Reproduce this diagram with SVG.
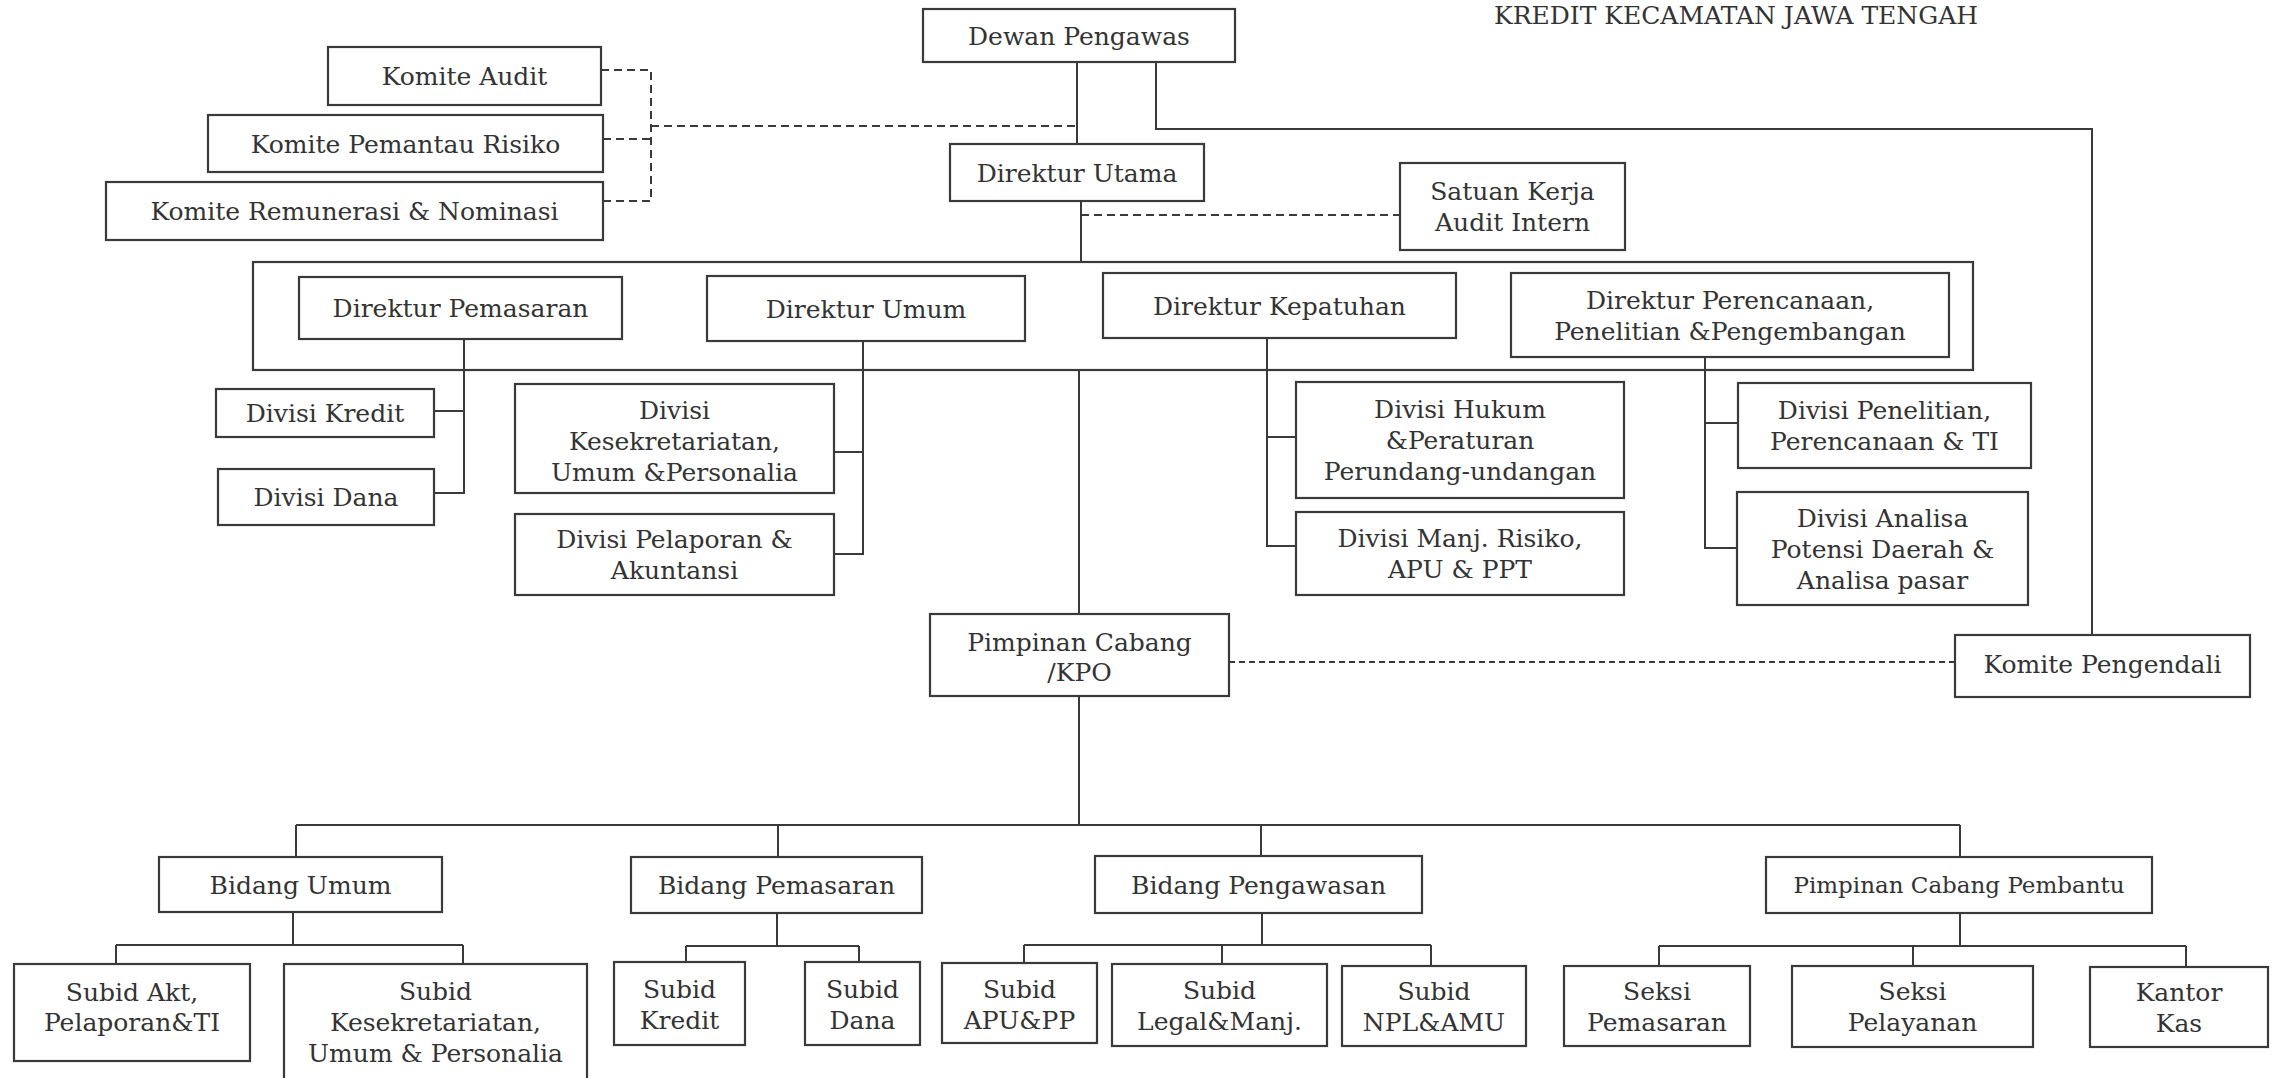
<svg xmlns="http://www.w3.org/2000/svg" width="2276" height="1078" viewBox="0 0 2276 1078">
<style>
  .bx { fill: #ffffff; stroke: #3a3a3a; stroke-width: 2.2; }
  .frame { fill: none; stroke: #3a3a3a; stroke-width: 2.2; }
  .ln { fill: none; stroke: #3a3a3a; stroke-width: 2; }
  .dash { fill: none; stroke: #3a3a3a; stroke-width: 2; stroke-dasharray: 8 5; }
  .dot { fill: none; stroke: #3a3a3a; stroke-width: 2; stroke-dasharray: 6 4; }
  text { font-family: "DejaVu Serif", "Liberation Serif", serif; font-size: 25px; fill: #333333; text-anchor: middle; }
  .sm { font-size: 23px; }
  .title { text-anchor: start; }
</style>
<rect width="2276" height="1078" fill="#ffffff"/>

<text class="title" x="1494" y="24">KREDIT KECAMATAN JAWA TENGAH</text>

<g id="connectors">
  <!-- solid -->
  <path class="ln" d="M1077 62 V144"/>
  <path class="ln" d="M1156 62 V129 H2092 V635"/>
  <path class="ln" d="M1081 201 V262"/>
  <path class="ln" d="M1079 370 V614"/>
  <path class="ln" d="M1079 696 V825"/>
  <path class="ln" d="M296 825 H1960"/>
  <path class="ln" d="M296 825 V857 M778 825 V857 M1261 825 V856 M1960 825 V857"/>
  <path class="ln" d="M464 339 V493 H434 M434 411 H464"/>
  <path class="ln" d="M863 341 V554 H834 M834 452 H863"/>
  <path class="ln" d="M1267 338 V546 H1296 M1267 437 H1296"/>
  <path class="ln" d="M1705 357 V548 H1737 M1705 423 H1738"/>
  <path class="ln" d="M293 912 V945 M116 945 H463 M116 945 V964 M463 945 V964"/>
  <path class="ln" d="M777 913 V946 M686 946 H859 M686 946 V962 M859 946 V962"/>
  <path class="ln" d="M1262 913 V945 M1024 945 H1431 M1024 945 V963 M1222 945 V964 M1431 945 V966"/>
  <path class="ln" d="M1960 913 V946 M1659 946 H2186 M1659 946 V966 M1913 946 V966 M2186 946 V967"/>
  <!-- dashed -->
  <path class="dash" d="M601 70 H651 V201 M603 139 H651 M603 201 H651"/>
  <path class="dash" d="M651 126 H1077"/>
  <path class="dash" d="M1081 215 H1400"/>
  <path class="dot" d="M1229 662 H1955"/>
</g>

<g id="direksi-frame">
  <rect class="frame" x="253" y="262" width="1720" height="108"/>
</g>

<g id="dewan-pengawas"><rect class="bx" x="923" y="9" width="312" height="53"/><text x="1079" y="45">Dewan Pengawas</text></g>
<g id="direktur-utama"><rect class="bx" x="950" y="144" width="254" height="57"/><text x="1077" y="182">Direktur Utama</text></g>
<g id="komite-audit"><rect class="bx" x="328" y="47" width="273" height="58"/><text x="464.5" y="85">Komite Audit</text></g>
<g id="komite-pemantau-risiko"><rect class="bx" x="208" y="115" width="395" height="57"/><text x="405.5" y="153">Komite Pemantau Risiko</text></g>
<g id="komite-remunerasi"><rect class="bx" x="106" y="182" width="497" height="58"/><text x="354.5" y="220">Komite Remunerasi &amp; Nominasi</text></g>
<g id="satuan-kerja-audit-intern"><rect class="bx" x="1400" y="163" width="225" height="87"/><text x="1512.5" y="200">Satuan Kerja</text><text x="1512.5" y="231">Audit Intern</text></g>

<g id="direktur-pemasaran"><rect class="bx" x="299" y="277" width="323" height="62"/><text x="460.5" y="317">Direktur Pemasaran</text></g>
<g id="direktur-umum"><rect class="bx" x="707" y="276" width="318" height="65"/><text x="866" y="318">Direktur Umum</text></g>
<g id="direktur-kepatuhan"><rect class="bx" x="1103" y="273" width="353" height="65"/><text x="1279.5" y="315">Direktur Kepatuhan</text></g>
<g id="direktur-perencanaan"><rect class="bx" x="1511" y="273" width="438" height="84"/><text x="1730" y="309">Direktur Perencanaan,</text><text x="1730" y="340">Penelitian &amp;Pengembangan</text></g>

<g id="divisi-kredit"><rect class="bx" x="216" y="389" width="218" height="48"/><text x="325" y="422">Divisi Kredit</text></g>
<g id="divisi-dana"><rect class="bx" x="218" y="469" width="216" height="56"/><text x="326" y="506">Divisi Dana</text></g>
<g id="divisi-kesekretariatan"><rect class="bx" x="515" y="384" width="319" height="109"/><text x="674.5" y="419">Divisi</text><text x="674.5" y="450">Kesekretariatan,</text><text x="674.5" y="481">Umum &amp;Personalia</text></g>
<g id="divisi-pelaporan"><rect class="bx" x="515" y="514" width="319" height="81"/><text x="674.5" y="548">Divisi Pelaporan &amp;</text><text x="674.5" y="579">Akuntansi</text></g>
<g id="divisi-hukum"><rect class="bx" x="1296" y="382" width="328" height="116"/><text x="1460" y="418">Divisi Hukum</text><text x="1460" y="449">&amp;Peraturan</text><text x="1460" y="480">Perundang-undangan</text></g>
<g id="divisi-manj-risiko"><rect class="bx" x="1296" y="512" width="328" height="83"/><text x="1460" y="547">Divisi Manj. Risiko,</text><text x="1460" y="578">APU &amp; PPT</text></g>
<g id="divisi-penelitian"><rect class="bx" x="1738" y="383" width="293" height="85"/><text x="1884.5" y="419">Divisi Penelitian,</text><text x="1884.5" y="450">Perencanaan &amp; TI</text></g>
<g id="divisi-analisa"><rect class="bx" x="1737" y="492" width="291" height="113"/><text x="1882.5" y="527">Divisi Analisa</text><text x="1882.5" y="558">Potensi Daerah &amp;</text><text x="1882.5" y="589">Analisa pasar</text></g>

<g id="komite-pengendali"><rect class="bx" x="1955" y="635" width="295" height="62"/><text x="2102.5" y="673">Komite Pengendali</text></g>
<g id="pimpinan-cabang"><rect class="bx" x="930" y="614" width="299" height="82"/><text x="1079.5" y="651">Pimpinan Cabang</text><text x="1079.5" y="681">/KPO</text></g>

<g id="bidang-umum"><rect class="bx" x="159" y="857" width="283" height="55"/><text x="300.5" y="894">Bidang Umum</text></g>
<g id="bidang-pemasaran"><rect class="bx" x="631" y="857" width="291" height="56"/><text x="776.5" y="894">Bidang Pemasaran</text></g>
<g id="bidang-pengawasan"><rect class="bx" x="1095" y="856" width="327" height="57"/><text x="1258.5" y="894">Bidang Pengawasan</text></g>
<g id="pimpinan-cabang-pembantu"><rect class="bx" x="1766" y="857" width="386" height="56"/><text class="sm" x="1959" y="893">Pimpinan Cabang Pembantu</text></g>

<g id="subid-akt"><rect class="bx" x="14" y="964" width="236" height="97"/><text x="132" y="1001">Subid Akt,</text><text x="132" y="1031">Pelaporan&amp;TI</text></g>
<g id="subid-kesekretariatan"><rect class="bx" x="284" y="964" width="303" height="130"/><text x="435.5" y="1000">Subid</text><text x="435.5" y="1031">Kesekretariatan,</text><text x="435.5" y="1062">Umum &amp; Personalia</text></g>
<g id="subid-kredit"><rect class="bx" x="614" y="962" width="131" height="83"/><text x="679.5" y="998">Subid</text><text x="679.5" y="1029">Kredit</text></g>
<g id="subid-dana"><rect class="bx" x="805" y="962" width="115" height="83"/><text x="862.5" y="998">Subid</text><text x="862.5" y="1029">Dana</text></g>
<g id="subid-apu"><rect class="bx" x="942" y="963" width="155" height="80"/><text x="1019.5" y="998">Subid</text><text x="1019.5" y="1029">APU&amp;PP</text></g>
<g id="subid-legal"><rect class="bx" x="1112" y="964" width="215" height="82"/><text x="1219.5" y="999">Subid</text><text x="1219.5" y="1030">Legal&amp;Manj.</text></g>
<g id="subid-npl"><rect class="bx" x="1342" y="966" width="184" height="80"/><text x="1434" y="1000">Subid</text><text x="1434" y="1031">NPL&amp;AMU</text></g>
<g id="seksi-pemasaran"><rect class="bx" x="1564" y="966" width="186" height="80"/><text x="1657" y="1000">Seksi</text><text x="1657" y="1031">Pemasaran</text></g>
<g id="seksi-pelayanan"><rect class="bx" x="1792" y="966" width="241" height="81"/><text x="1912.5" y="1000">Seksi</text><text x="1912.5" y="1031">Pelayanan</text></g>
<g id="kantor-kas"><rect class="bx" x="2090" y="967" width="178" height="80"/><text x="2179" y="1001">Kantor</text><text x="2179" y="1032">Kas</text></g>
</svg>
